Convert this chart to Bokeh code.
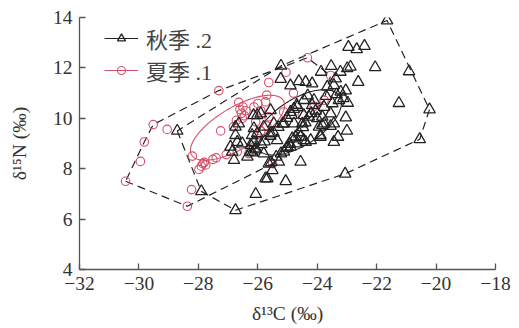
import numpy as np
from bokeh.plotting import figure
from bokeh.models import Legend, LegendItem, FixedTicker
from bokeh.embed import file_html
from bokeh.resources import INLINE

# ---- data ----
autumn_c = [-28.71, -27.90, -26.75, -23.06, -20.55, -20.22, -21.65, -25.22,
            -25.23, -22.95, -22.67, -22.41, -22.05, -20.91, -22.62, -21.25,
            -23.87, -23.53, -23.22, -22.99, -22.88, -23.38, -24.90, -24.62,
            -24.39, -24.17, -23.66, -23.44, -23.21, -23.04, -23.12, -22.97,
            -23.77, -23.49, -23.27, -23.04, -23.00, -23.30, -23.44, -23.89,
            -24.22, -24.39, -24.56, -25.00, -25.12, -23.55, -23.83, -23.77,
            -23.55, -24.00, -23.94, -24.17, -24.11, -24.45, -24.67, -24.90,
            -24.50, -24.45, -25.57, -26.02, -25.80, -25.57, -25.35, -24.78,
            -25.80, -24.84, -24.56, -25.06, -25.74, -25.51, -25.63, -25.29,
            -26.19, -24.90, -24.67, -24.45, -23.89, -23.44, -23.83, -25.46,
            -25.12, -26.07, -25.68, -26.75, -26.92, -26.86, -26.80, -26.69,
            -26.52, -26.24, -26.13, -26.24, -26.07, -26.75, -26.64, -26.13,
            -26.02, -26.14, -25.90,
            -26.35, -26.18, -26.06, -25.88, -25.77, -25.58, -25.47, -25.31,
            -25.17, -25.02, -24.86, -24.79, -24.69,
            -25.55, -25.38, -25.22, -25.03, -24.92, -24.73, -24.62, -24.48,
            -24.40, -24.28, -24.20, -23.70, -23.35, -24.05, -24.32]
autumn_n = [9.50, 7.10, 6.35, 7.80, 9.17, 10.35, 13.88, 12.08,
            11.56, 12.83, 12.74, 12.87, 12.02, 11.86, 11.44, 10.60,
            11.84, 12.07, 11.84, 11.98, 12.04, 11.58, 11.30, 11.47,
            11.44, 11.38, 11.25, 11.31, 11.05, 11.10, 10.79, 10.61,
            10.45, 10.59, 10.72, 10.03, 9.50, 9.26, 9.06, 9.26,
            9.13, 9.06, 9.26, 8.87, 8.67, 10.19, 10.06, 9.79,
            9.69, 10.00, 9.66, 10.52, 10.72, 10.72, 10.45, 10.25,
            9.79, 10.12, 10.32, 10.12, 9.66, 9.40, 9.13, 9.79,
            8.60, 9.20, 8.27, 7.50, 7.61, 7.94, 8.20, 8.27,
            9.33, 8.87, 9.00, 9.13, 9.33, 9.79, 9.73, 9.79,
            9.79, 6.99, 7.61, 9.33, 8.87, 8.67, 8.34, 9.06,
            9.00, 8.93, 9.06, 8.67, 8.80, 9.66, 9.79, 9.60,
            9.40, 10.12, 10.19,
            8.47, 8.64, 8.76, 8.97, 9.08, 9.30, 9.43, 9.65,
            9.78, 10.01, 10.13, 10.37, 10.53,
            8.25, 8.47, 8.60, 8.82, 8.98, 9.27, 9.44, 9.64,
            9.83, 10.06, 10.20, 10.88, 10.95, 10.30, 10.90]

summer_c = [-30.45, -29.95, -29.82, -29.52, -29.05, -28.23, -28.37, -28.20,
            -27.98, -27.90, -27.85, -27.75, -27.80, -27.51, -27.40, -27.06,
            -27.25, -26.82, -26.72, -26.69, -26.30, -27.31, -26.64, -26.60,
            -26.55, -26.50, -26.45, -26.40, -26.52, -25.63, -25.05, -24.33,
            -23.55, -26.00, -25.70, -25.90, -25.63, -26.07, -24.80, -23.77,
            -24.10, -25.13, -26.13, -25.74, -24.50, -25.50, -25.90, -25.70]
summer_n = [7.50, 8.29, 9.06, 9.75, 9.56, 7.17, 6.51, 8.50,
            7.97, 8.10, 8.20, 8.15, 8.25, 8.37, 8.43, 8.56,
            9.50, 9.66, 9.92, 8.67, 8.60, 11.10, 10.63, 10.35,
            10.20, 10.45, 10.10, 10.30, 10.00, 11.42, 11.83, 12.40,
            11.70, 10.59, 10.92, 10.30, 10.06, 9.86, 11.00, 10.72,
            10.48, 10.25, 10.45, 10.65, 10.12, 8.20, 9.50, 9.70]

series_labels = ["秋季 .2", "夏季 .1"]
x_ticks = [-32, -30, -28, -26, -24, -22, -20, -18]
y_ticks = [4, 6, 8, 10, 12, 14]

BLACK = "#222222"
RED = "#d4506a"
SERIF = "Liberation Serif"


def convex_hull(xs, ys):
    pts = sorted(set(zip(xs, ys)))

    def cross(o, a, b):
        return (a[0] - o[0]) * (b[1] - o[1]) - (a[1] - o[1]) * (b[0] - o[0])

    lower, upper = [], []
    for p in pts:
        while len(lower) >= 2 and cross(lower[-2], lower[-1], p) <= 0:
            lower.pop()
        lower.append(p)
    for p in reversed(pts):
        while len(upper) >= 2 and cross(upper[-2], upper[-1], p) <= 0:
            upper.pop()
        upper.append(p)
    hull = lower[:-1] + upper[:-1]
    hull.append(hull[0])
    return [h[0] for h in hull], [h[1] for h in hull]


def std_ellipse(xs, ys, n=240):
    xs = np.asarray(xs)
    ys = np.asarray(ys)
    cov = np.cov(xs, ys)
    vals, vecs = np.linalg.eigh(cov)
    t = np.linspace(0, 2 * np.pi, n)
    circ = np.vstack([np.cos(t), np.sin(t)])
    e = vecs @ np.diag(np.sqrt(vals)) @ circ
    return xs.mean() + e[0], ys.mean() + e[1]


p = figure(width=519, height=328, x_range=(-32, -18), y_range=(4, 14),
           output_backend="svg", toolbar_location=None,
           min_border_left=79, min_border_right=24,
           min_border_top=17, min_border_bottom=59)
p.outline_line_color = None
p.xgrid.visible = False
p.ygrid.visible = False
p.background_fill_color = "white"
p.border_fill_color = "white"

# hulls
hx, hy = convex_hull(autumn_c, autumn_n)
p.line(hx, hy, line_color=BLACK, line_width=1.2, line_dash="8 5")
sx, sy = convex_hull(summer_c, summer_n)
p.line(sx, sy, line_color=BLACK, line_width=1.2, line_dash="8 5")

# ellipses
ex, ey = std_ellipse(autumn_c, autumn_n)
ell_a = p.line(ex, ey, line_color=BLACK, line_width=1.1)
ex2, ey2 = std_ellipse(summer_c, summer_n)
ell_s = p.line(ex2, ey2, line_color=RED, line_width=1.1)

sc_s = p.scatter(summer_c, summer_n, marker="circle", size=8.5,
                 line_color=RED, fill_color=None, line_width=1.1)
sc_a = p.scatter(autumn_c, autumn_n, marker="triangle", size=11.5,
                 line_color=BLACK, fill_color=None, line_width=1.3)

for ax in (p.xaxis[0], p.yaxis[0]):
    ax.axis_line_color = "#555555"
    ax.axis_line_width = 1.3
    ax.major_tick_line_color = "#555555"
    ax.major_tick_line_width = 1.3
    ax.major_tick_in = 6
    ax.major_tick_out = 0
    ax.minor_tick_line_color = None
    ax.major_label_text_font = SERIF
    ax.major_label_text_font_size = "19.5px"
    ax.major_label_text_color = "#333333"
    ax.axis_label_text_font = SERIF
    ax.axis_label_text_font_size = "19.5px"
    ax.axis_label_text_font_style = "normal"
    ax.axis_label_text_color = "#333333"

p.xaxis.ticker = FixedTicker(ticks=x_ticks)
p.yaxis.ticker = FixedTicker(ticks=y_ticks)
p.xaxis.major_label_overrides = {t: ("\u2212" + str(abs(t)) if t < 0 else str(t)) for t in x_ticks}
p.xaxis.major_label_standoff = 7
p.yaxis.major_label_standoff = 7
p.xaxis.axis_label = "δ¹³C (‰)"
p.yaxis.axis_label = "δ¹⁵N (‰)"
p.xaxis.axis_label_standoff = 10
p.yaxis.axis_label_standoff = 20

legend = Legend(items=[LegendItem(label=series_labels[0], renderers=[ell_a, sc_a]),
                       LegendItem(label=series_labels[1], renderers=[ell_s, sc_s])],
                location=(25, 183), margin=0, padding=0, spacing=0,
                glyph_width=34, glyph_height=20, label_height=20,
                label_standoff=8, border_line_color=None,
                background_fill_alpha=0,
                label_text_font="Liberation Serif, Noto Sans CJK SC",
                label_text_font_size="22px", label_text_color="#444444")
p.add_layout(legend)

open("out.html", "w").write(file_html(p, INLINE))
